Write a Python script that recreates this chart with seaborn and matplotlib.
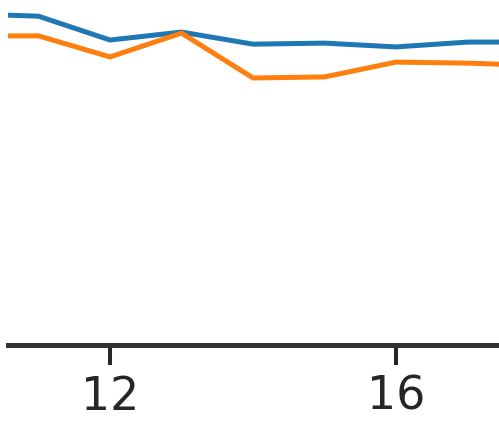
import numpy as np
import pandas as pd
import matplotlib
matplotlib.use("Agg")
import matplotlib.pyplot as plt
import seaborn as sns

# values
steps = [10, 11, 12, 13, 14, 15, 16, 17, 18]
blue_vals = [0.960, 0.953, 0.884, 0.907, 0.872, 0.875, 0.864, 0.878, 0.878]
orange_vals = [0.896, 0.896, 0.835, 0.904, 0.774, 0.777, 0.820, 0.817, 0.810]
xticks = [12, 16]

df = pd.DataFrame({
    "step": steps * 2,
    "value": blue_vals + orange_vals,
    "series": ["a"] * len(steps) + ["b"] * len(steps),
})

sns.set_theme(style="ticks")
plt.rcParams["font.family"] = ["DejaVu Sans"]

fig = plt.figure(figsize=(4.99, 4.24), dpi=100)
ax = fig.add_axes([8 / 499, 79 / 424, 1 - 8 / 499, 1 - 79 / 424])

sns.lineplot(data=df, x="step", y="value", hue="series",
             palette=["#1f77b4", "#ff7f0e"], linewidth=3.6, legend=False, ax=ax)

ax.set_xlim(10.573, 17.44)
ax.set_ylim(0, 1)
ax.set_xticks(xticks)
ax.set_xticklabels([str(t) for t in xticks])
ax.set_yticks([])
ax.set_xlabel("")
ax.set_ylabel("")
ax.tick_params(axis="x", length=14.4, width=2.9, pad=7, labelsize=33,
               color="#262626", labelcolor="#262626")
sns.despine(ax=ax, left=True)
ax.spines["bottom"].set_linewidth(3.6)
ax.spines["bottom"].set_color("#333333")

fig.savefig("out.png", dpi=100)
